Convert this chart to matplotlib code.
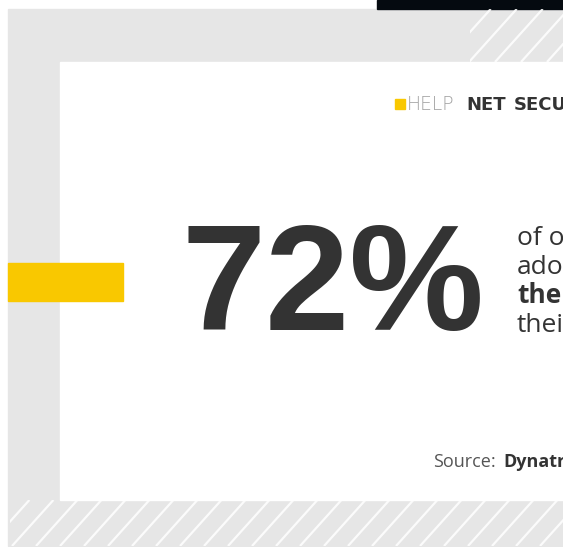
import matplotlib.pyplot as plt
import matplotlib.patches as patches
import numpy as np

# content of the card
stat_value = "72%"
stat_lines = ["of organizations", "adopted", "the", "their"]
stat_bold = [False, False, True, False]
brand_parts = ["HELP", "NET", "SECURITY"]
source_label = "Source:"
source_name = "Dynatrace"

W, H = 563, 547
fig = plt.figure(figsize=(W / 100, H / 100), dpi=100)
ax = fig.add_axes([0, 0, 1, 1])
ax.set_xlim(0, W)
ax.set_ylim(H, 0)
ax.axis("off")

gray = "#e6e6e6"
dark = "#333333"
yellow = "#f9c800"

# gray frame background
ax.add_patch(patches.Rectangle((8, 9), W - 8, H - 10, color=gray, zorder=0))
# black strip top right
ax.add_patch(patches.Rectangle((377, 0), W - 377, 9, color="#050a10", zorder=1))

# diagonal white stripes (bottom strip and top right corner)
def stripes(x0, y0, x1, y1, step=24, lw=1.6):
    clip = patches.Rectangle((x0, y0), x1 - x0, y1 - y0, transform=ax.transData)
    h = y1 - y0
    for xs in np.arange(x0 - h, x1 + step, step):
        ln, = ax.plot([xs, xs + h * 0.9], [y1, y0], color="white", lw=lw,
                      alpha=0.85, zorder=1, solid_capstyle="butt")
        ln.set_clip_path(clip)

stripes(10, 500, W, 546)
stripes(470, 9, W, 62, step=26)

# white card
ax.add_patch(patches.Rectangle((60, 62), W - 60, 438, color="white", zorder=2))

# yellow bar
ax.add_patch(patches.Rectangle((8, 263), 115, 38, color=yellow, zorder=3))

# big number
ax.text(182, 330, stat_value, fontsize=109, fontweight="bold", color=dark,
        family="Liberation Sans", ha="left", va="baseline", zorder=4)

# side text
for i, (line, b) in enumerate(zip(stat_lines, stat_bold)):
    ax.text(517, 245 + i * 29, line, fontsize=19, color=dark,
            fontweight="bold" if b else "normal", family="Open Sans",
            ha="left", va="baseline", zorder=4)

# logo
ax.add_patch(patches.Rectangle((395, 99), 10, 10, color=yellow, zorder=4))
ax.text(407, 109.5, brand_parts[0], fontsize=13.5, color="#a0a0a0",
        fontweight="light", family="DejaVu Sans", va="baseline", zorder=4)
ax.text(466, 109.5, brand_parts[1], fontsize=13, color=dark,
        fontweight="bold", family="DejaVu Sans", va="baseline", zorder=4)
ax.text(514, 109.5, brand_parts[2], fontsize=13, color=dark,
        fontweight="bold", family="DejaVu Sans", va="baseline", zorder=4)

# source
ax.text(433, 467, source_label, fontsize=13, color="#555555",
        family="Open Sans", va="baseline", zorder=4)
ax.text(503, 467, source_name, fontsize=13, color=dark, fontweight="bold",
        family="Open Sans", va="baseline", zorder=4)

fig.savefig("out.png", dpi=100, facecolor="white")
